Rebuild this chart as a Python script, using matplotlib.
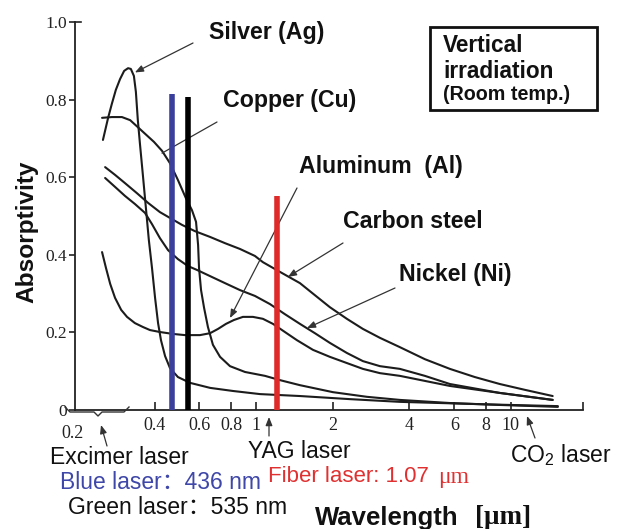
import matplotlib
matplotlib.use('Agg')
import matplotlib.pyplot as plt
from matplotlib.patches import Rectangle, FancyArrowPatch
from matplotlib.lines import Line2D
from matplotlib.ticker import NullLocator

plt.rcParams['mathtext.fontset'] = 'custom'
plt.rcParams['mathtext.rm'] = 'Liberation Sans'

W, H = 626, 529

# ---- data (wavelength in um, absorptivity) ----
silver_x = [0.251, 0.263, 0.272, 0.282, 0.293, 0.304, 0.315, 0.323, 0.332, 0.338, 0.344, 0.351,
            0.360, 0.370, 0.380, 0.391, 0.402, 0.413, 0.424, 0.440, 0.460, 0.494, 0.551, 0.661,
            0.813, 1.037, 1.488, 2.337, 3.670, 7.56, 15.3]
silver_y = [0.696, 0.753, 0.789, 0.825, 0.853, 0.874, 0.881, 0.879, 0.861, 0.820, 0.747, 0.683,
            0.606, 0.521, 0.438, 0.366, 0.289, 0.224, 0.180, 0.139, 0.108, 0.085, 0.070, 0.057,
            0.049, 0.041, 0.036, 0.028, 0.021, 0.015, 0.010]

copper_x = [0.249, 0.272, 0.298, 0.321, 0.344, 0.370, 0.398, 0.428, 0.460, 0.494, 0.531, 0.561,
            0.582, 0.593, 0.598, 0.609, 0.626, 0.648, 0.678, 0.723, 0.791, 0.906, 1.085, 1.242,
            1.488, 2.004, 2.724, 3.670, 5.766, 9.05, 15.3]
copper_y = [0.753, 0.755, 0.755, 0.747, 0.729, 0.710, 0.691, 0.668, 0.636, 0.593, 0.546, 0.515,
            0.485, 0.425, 0.366, 0.309, 0.263, 0.214, 0.168, 0.137, 0.113, 0.098, 0.088, 0.077,
            0.064, 0.046, 0.034, 0.026, 0.018, 0.013, 0.008]

aluminum_x = [0.249, 0.258, 0.268, 0.280, 0.296, 0.312, 0.335, 0.360, 0.384, 0.420, 0.473, 0.527,
              0.603, 0.661, 0.710, 0.763, 0.820, 0.889, 0.973, 1.065, 1.166, 1.299, 1.448, 1.674,
              1.950, 2.274, 2.628, 3.065, 3.670, 4.60, 5.766, 9.05, 14.6]
aluminum_y = [0.407, 0.366, 0.325, 0.289, 0.258, 0.240, 0.224, 0.214, 0.206, 0.201, 0.196, 0.193,
              0.193, 0.198, 0.209, 0.222, 0.232, 0.240, 0.240, 0.235, 0.222, 0.201, 0.180, 0.155,
              0.137, 0.121, 0.106, 0.095, 0.088, 0.075, 0.062, 0.044, 0.026]

steel_x = [0.256, 0.280, 0.306, 0.341, 0.377, 0.420, 0.460, 0.513, 0.576, 0.661, 0.756, 0.866,
           0.991, 1.065, 1.242, 1.488, 1.703, 1.950, 2.274, 2.628, 3.065, 3.670, 4.60, 5.766,
           7.22, 9.05, 11.35, 14.6]
steel_y = [0.626, 0.606, 0.585, 0.559, 0.534, 0.510, 0.495, 0.477, 0.461, 0.446, 0.430, 0.415,
           0.397, 0.381, 0.356, 0.327, 0.296, 0.265, 0.235, 0.209, 0.186, 0.162, 0.131, 0.106,
           0.085, 0.067, 0.052, 0.036]

nickel_x = [0.256, 0.280, 0.306, 0.335, 0.367, 0.391, 0.420, 0.452, 0.494, 0.541, 0.587, 0.661,
            0.756, 0.866, 0.991, 1.135, 1.299, 1.488, 1.703, 1.950, 2.274, 2.628, 3.065, 3.670,
            4.60, 5.766, 9.05, 14.6]
nickel_y = [0.598, 0.575, 0.552, 0.531, 0.508, 0.479, 0.443, 0.412, 0.389, 0.371, 0.361, 0.345,
            0.327, 0.309, 0.294, 0.273, 0.247, 0.222, 0.198, 0.173, 0.147, 0.126, 0.113, 0.106,
            0.088, 0.067, 0.044, 0.026]

laser_x = [0.47, 0.539, 1.21]          # drawn positions of blue, green(black), fiber lines
laser_top = [0.814, 0.807, 0.552]
laser_colors = ['#3a3f9c', '#000000', '#e02a2a']

xticks = [0.4, 0.6, 0.8, 1, 2, 4, 6, 8, 10]
xtick_labels = ['0.4', '0.6', '0.8', '1', '2', '4', '6', '8', '10']
yticks = [0, 0.2, 0.4, 0.6, 0.8, 1.0]
ytick_labels = ['0', '0.2', '0.4', '0.6', '0.8', '1.0']

SANS = ['Liberation Sans', 'DejaVu Sans']
CJK = ['Liberation Sans', 'Noto Sans CJK SC', 'DejaVu Sans']
SERIF = ['Liberation Serif', 'DejaVu Serif']

def fp(x, y):
    return (x / W, 1 - y / H)

fig = plt.figure(figsize=(W / 100, H / 100), dpi=100)
fig.patch.set_facecolor('white')
ax = fig.add_axes([75 / W, 1 - 410 / H, (583 - 75) / W, (410 - 22) / H])
ax.set_xscale('log')
XMAX = 19.2
ax.set_xlim(0.195, XMAX)
ax.set_ylim(0, 1.0)

curve_kw = dict(color='#1c1c1c', lw=1.5, solid_capstyle='round', zorder=2)
for xs, ys in [(silver_x, silver_y), (copper_x, copper_y), (aluminum_x, aluminum_y),
               (steel_x, steel_y), (nickel_x, nickel_y)]:
    ax.plot(xs, ys, **curve_kw)

for lx, lt, lc in zip(laser_x, laser_top, laser_colors):
    ax.plot([lx, lx], [0, lt], color=lc, lw=4.0, solid_capstyle='butt', zorder=4)

for s in ['top', 'right']:
    ax.spines[s].set_visible(False)
for s in ['left', 'bottom']:
    ax.spines[s].set_linewidth(1.3)
    ax.spines[s].set_color('#222222')

ax.xaxis.set_minor_locator(NullLocator())
ax.set_xticks(xticks + [XMAX])
ax.set_xticklabels(xtick_labels + [''])
ax.set_yticks(yticks)
ax.set_yticklabels(ytick_labels)
ax.tick_params(axis='x', direction='in', length=6, width=1.2, pad=5, labelsize=13,
               colors='#222222')
ax.tick_params(axis='y', direction='out', length=4, width=1.2, pad=1.5, labelsize=12.5,
               colors='#222222')
for lab in ax.get_xticklabels() + ax.get_yticklabels():
    lab.set_family(SERIF)
# small cap at top of y axis
ax.plot([0, 0.012], [1, 1], transform=ax.transAxes, color='#222222', lw=1.2, clip_on=False)

# ---- labels for curves ----
lab_kw = dict(family=SANS, fontweight='bold', fontsize=16.7, ha='left', va='center',
              color='#111111')
fig.text(*fp(209, 32), 'Silver (Ag)', **lab_kw)
fig.text(*fp(223, 100), 'Copper (Cu)', **lab_kw)
fig.text(*fp(299, 167), 'Aluminum  (Al)', **lab_kw)
fig.text(*fp(343, 222), 'Carbon steel', **lab_kw)
fig.text(*fp(399, 275), 'Nickel (Ni)', **lab_kw)

arrow_kw_head = dict(arrowstyle='-|>,head_length=0.5,head_width=0.2', color='#333333', lw=0.9,
                     shrinkA=0, shrinkB=0, mutation_scale=10)
arrow_kw_line = dict(arrowstyle='-', color='#333333', lw=0.9, shrinkA=0, shrinkB=0)

def pointer(tip, tail, head=True):
    ax.annotate('', xy=tip, xycoords='data', xytext=fp(*tail), textcoords='figure fraction',
                arrowprops=arrow_kw_head if head else arrow_kw_line, zorder=3)

pointer((0.335, 0.870), (193, 43))
pointer((0.428, 0.662), (217, 122), head=False)
pointer((0.791, 0.237), (297, 188))
pointer((1.335, 0.343), (343, 243))
pointer((1.585, 0.211), (395, 288))

# ---- box ----
box = Rectangle(fp(430, 110), (597 - 430) / W, (110 - 27) / H, transform=fig.transFigure,
                fill=False, lw=2.0, edgecolor='#111111')
fig.patches.append(box)
box_kw = dict(lab_kw)
box_kw['fontsize'] = 16.3
fig.text(*fp(443, 46), 'Vertical', **box_kw)
fig.text(*fp(443, 71), 'irradiation', **box_kw)
fig.text(*fp(443, 95), '(Room temp.)', family=SANS, fontweight='bold', fontsize=14.2,
         ha='left', va='center', color='#111111')

# ---- axis labels ----
fig.text(*fp(27, 232), 'Absorptivity', family=SANS, fontweight='bold', fontsize=17.6,
         rotation=90, ha='center', va='center', color='#111111')
fig.text(*fp(315, 518), 'Wavelength', family=SANS, fontweight='bold', fontsize=18.5,
         ha='left', va='center', color='#111111')
fig.text(*fp(475, 518), '[μm]', family=SERIF, fontweight='bold', fontsize=19.5,
         ha='left', va='center', color='#111111')

# ---- bottom annotations ----
fig.text(*fp(73, 433), '0.2', family=SERIF, fontsize=13, ha='center', va='center',
         color='#222222')
brace_px = [(65, 407), (70, 412), (94, 412), (98, 416), (102, 412), (124, 412), (129, 407)]
fig.lines.append(Line2D([fp(*p)[0] for p in brace_px], [fp(*p)[1] for p in brace_px],
                        transform=fig.transFigure, color='#333333', lw=1.0))

def fig_arrow(tip, tail):
    fig.patches.append(FancyArrowPatch(fp(*tail), fp(*tip), transform=fig.transFigure,
                                       **arrow_kw_head))

fig_arrow((101, 425), (107, 446))
fig_arrow((269, 417), (269, 436))
fig_arrow((527, 416), (535, 438))

txt_kw = dict(family=CJK, fontsize=16.5, ha='left', va='center')
fig.text(*fp(50, 457), 'Excimer laser', color='#111111', **txt_kw)
fig.text(*fp(248, 452), 'YAG laser', color='#111111', **txt_kw)
fig.text(*fp(510, 455), 'CO$_2$ laser', color='#111111', **txt_kw)
fig.text(*fp(60, 482), 'Blue laser：436 nm', color='#3f47a8', **txt_kw)
fig.text(*fp(268, 477), 'Fiber laser: 1.07', color='#e03030', family=SANS, fontsize=16.0,
         ha='left', va='center')
fig.text(*fp(438, 477), 'μm', color='#e03030', family=SERIF, fontsize=17, ha='left',
         va='center')
fig.text(*fp(68, 507), 'Green laser：535 nm', color='#111111', **txt_kw)

fig.savefig('out.png', dpi=100)
